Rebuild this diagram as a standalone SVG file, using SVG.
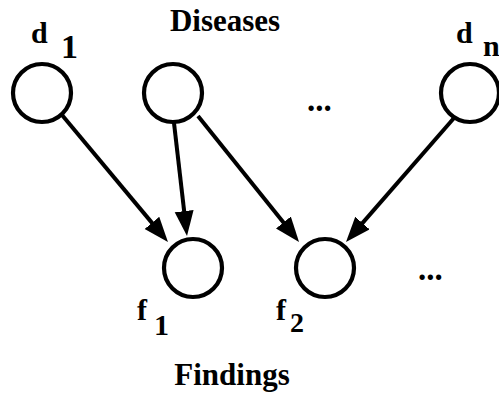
<svg xmlns="http://www.w3.org/2000/svg" width="499" height="401" viewBox="0 0 499 401">
<defs>
<style>
.node{fill:#fff;stroke:#000;stroke-width:4.2}
.edge{fill:none;stroke:#000;stroke-width:4}
.t{font-family:"Liberation Serif","Times New Roman",serif;font-weight:bold;fill:#000}
</style>
<marker id="ah" markerUnits="userSpaceOnUse" markerWidth="28" markerHeight="20" refX="4" refY="9.5" orient="auto">
<path d="M0,0 L25,9.5 L0,19 z" fill="#000"/>
</marker>
</defs>
<rect width="499" height="401" fill="#fff"/>
<text class="t" x="225" y="31" font-size="31" text-anchor="middle">Diseases</text>
<text class="t" x="232" y="385" font-size="31" text-anchor="middle">Findings</text>
<g id="connectors">
<line class="edge" x1="62" y1="115" x2="154.5" y2="225.9" marker-end="url(#ah)"/>
<line class="edge" x1="174" y1="123" x2="184.6" y2="215.1" marker-end="url(#ah)"/>
<line class="edge" x1="198" y1="116" x2="285.9" y2="225.6" marker-end="url(#ah)"/>
<line class="edge" x1="454" y1="118" x2="359.8" y2="226.1" marker-end="url(#ah)"/>
</g>
<g id="d1">
<circle class="node" cx="42" cy="93" r="29"/>
<text class="t" x="31" y="43" font-size="30">d</text>
<text class="t" x="61" y="58" font-size="34">1</text>
</g>
<g id="d2">
<circle class="node" cx="173" cy="93" r="29"/>
</g>
<g id="dots1"><text class="t" x="307" y="111" font-size="33">...</text></g>
<g id="dn">
<circle class="node" cx="470" cy="93" r="29"/>
<text class="t" x="456" y="43" font-size="30">d</text>
<text class="t" x="483" y="56" font-size="30">n</text>
</g>
<g id="f1">
<circle class="node" cx="193" cy="268" r="29"/>
<text class="t" x="137" y="320" font-size="30">f</text>
<text class="t" x="154" y="335" font-size="30">1</text>
</g>
<g id="f2">
<circle class="node" cx="325" cy="268" r="29"/>
<text class="t" x="276" y="320" font-size="30">f</text>
<text class="t" x="290" y="332" font-size="28">2</text>
</g>
<g id="dots2"><text class="t" x="418" y="280" font-size="33">...</text></g>
</svg>
